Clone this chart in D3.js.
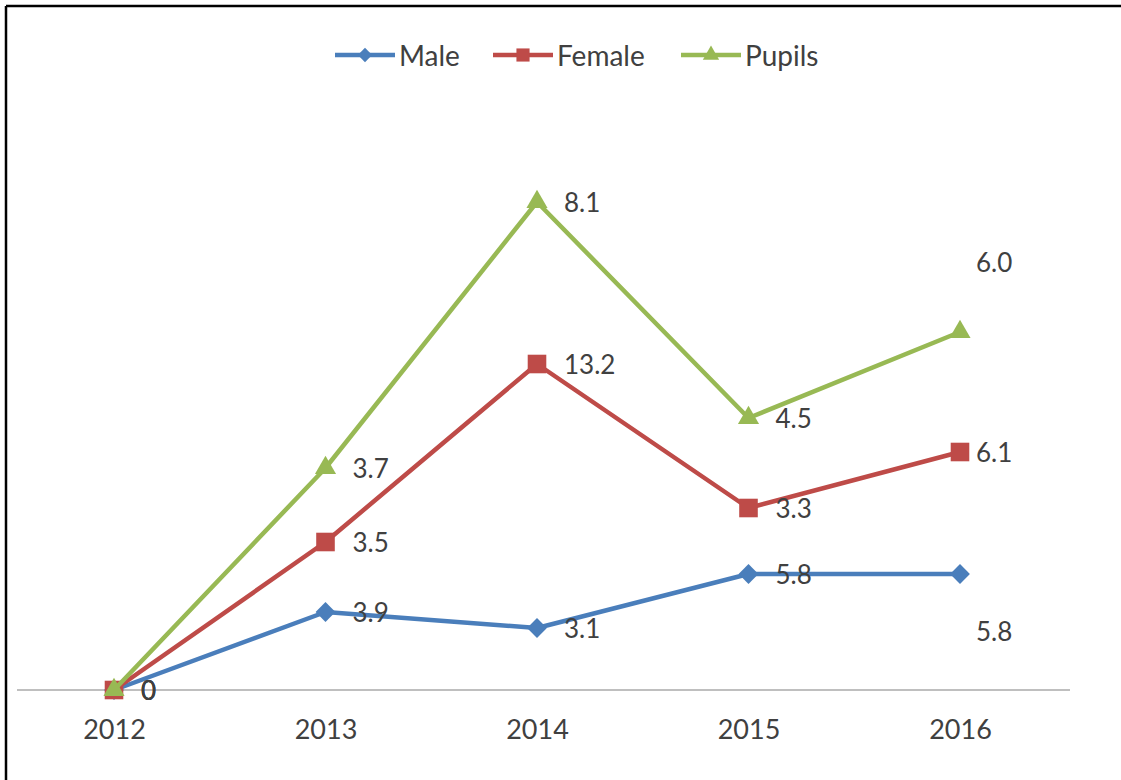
<!DOCTYPE html>
<html>
<head>
<meta charset="utf-8">
<script src="https://cdn.jsdelivr.net/npm/d3@7"></script>
<style>
  html, body { margin: 0; padding: 0; background: #fff; }
  svg { display: block; }
  text { font-family: Lato, "Open Sans", sans-serif; fill: #404040; }
</style>
</head>
<body>
<svg id="chart" width="1121" height="780"></svg>
<script>
// Years on the category axis
const years = ["2012", "2013", "2014", "2015", "2016"];
// Series values (stacked lines: each series sits on top of the previous)
const male   = [0, 3.9, 3.1, 5.8, 5.8];
const female = [0, 3.5, 13.2, 3.3, 6.1];
const pupils = [0, 3.7, 8.1, 4.5, 6.0];
const seriesNames = ["Male", "Female", "Pupils"];

const colors = { Male: "#4a7ebb", Female: "#be4b48", Pupils: "#98b954" };

const svg = d3.select("#chart");
const W = 1121, H = 780;

// Frame edges
svg.append("line").attr("x1", 6).attr("y1", 6).attr("x2", W).attr("y2", 6)
  .attr("stroke", "#000").attr("stroke-width", 2.5);
svg.append("line").attr("x1", 6).attr("y1", 6).attr("x2", 6).attr("y2", H)
  .attr("stroke", "#000").attr("stroke-width", 2.5);

const table = years.map((y, i) => ({ year: y, Male: male[i], Female: female[i], Pupils: pupils[i] }));
const stacked = d3.stack().keys(seriesNames)(table);

const x = d3.scalePoint().domain(years).range([114, 960]);
const y = d3.scaleLinear().domain([0, 25]).range([690, 190]);

// Baseline of the category axis
svg.append("line").attr("x1", 17).attr("x2", 1070).attr("y1", y(0)).attr("y2", y(0))
  .attr("stroke", "#bfbfbf").attr("stroke-width", 2);

const xAxis = svg.append("g").attr("transform", `translate(0,${y(0)})`)
  .call(d3.axisBottom(x).tickSize(0).tickPadding(30));
xAxis.select(".domain").remove();
xAxis.selectAll("text").style("font-size", "27px").style("font-family", "Lato, sans-serif").attr("fill", "#404040");

// Marker shapes
const markerPath = {
  Male: d3.symbol().type(d3.symbolDiamond2).size(250),
  Female: d3.symbol().type(d3.symbolSquare2).size(440),
  Pupils: d3.symbol().type(d3.symbolTriangle2).size(320)
};
const legendMarkerPath = {
  Male: d3.symbol().type(d3.symbolDiamond2).size(130),
  Female: d3.symbol().type(d3.symbolSquare2).size(220),
  Pupils: d3.symbol().type(d3.symbolTriangle2).size(190)
};

const line = d3.line().x(d => x(d.data.year)).y(d => y(d[1]));

const fmt = v => v === 0 ? "0" : v.toFixed(1);

// Manually moved labels on the last category
const labelShift = {
  "Male|2016": { dx: -11, dy: 57 },
  "Female|2016": { dx: -11, dy: 0 },
  "Pupils|2016": { dx: -11, dy: -70 }
};

stacked.forEach(layer => {
  const name = layer.key;
  const g = svg.append("g");
  g.append("path").datum(layer).attr("d", line)
    .attr("fill", "none").attr("stroke", colors[name]).attr("stroke-width", 4.5)
    .attr("stroke-linejoin", "round");
  g.selectAll("path.mk").data(layer).join("path").attr("class", "mk")
    .attr("d", markerPath[name]())
    .attr("transform", d => `translate(${x(d.data.year)},${y(d[1])})`)
    .attr("fill", colors[name]);
});

// Data labels show each series' own value
stacked.forEach(layer => {
  const name = layer.key;
  svg.append("g").selectAll("text").data(layer).join("text")
    .attr("x", d => x(d.data.year) + 27 + ((labelShift[name + "|" + d.data.year] || {}).dx || 0))
    .attr("y", d => y(d[1]) + ((labelShift[name + "|" + d.data.year] || {}).dy || 0))
    .attr("dominant-baseline", "central")
    .style("font-size", "26px")
    .text(d => fmt(d.data[name]));
});

// Legend
const legendItems = [
  { name: "Male", x: 335 },
  { name: "Female", x: 493 },
  { name: "Pupils", x: 681 }
];
const lg = svg.append("g");
legendItems.forEach(it => {
  const gy = 55;
  lg.append("line").attr("x1", it.x).attr("x2", it.x + 60).attr("y1", gy).attr("y2", gy)
    .attr("stroke", colors[it.name]).attr("stroke-width", 4.5);
  lg.append("path").attr("d", legendMarkerPath[it.name]())
    .attr("transform", `translate(${it.x + 30},${gy})`).attr("fill", colors[it.name]);
  lg.append("text").attr("x", it.x + 64).attr("y", gy).attr("dominant-baseline", "central")
    .style("font-size", "28px").attr("fill", "#333").text(it.name);
});
</script>
</body>
</html>
